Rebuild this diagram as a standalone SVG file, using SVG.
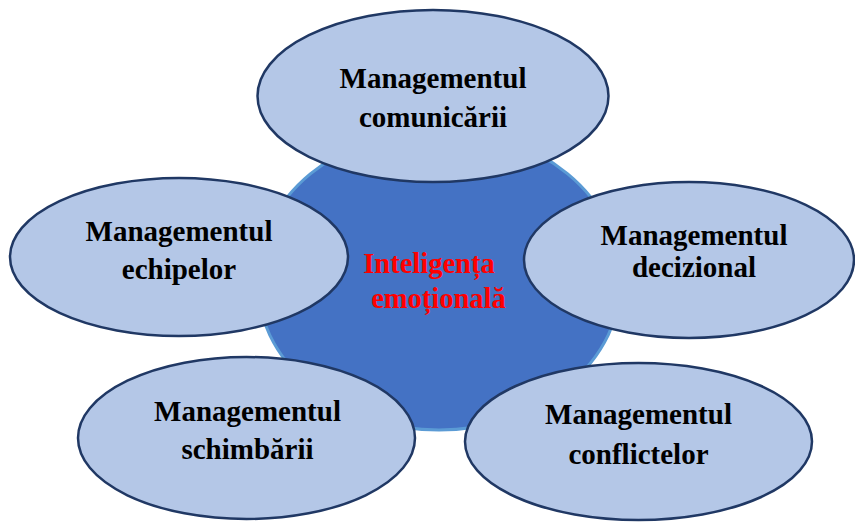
<svg xmlns="http://www.w3.org/2000/svg" width="855" height="522" viewBox="0 0 855 522">
  <style>
    .core { fill: #4472C4; stroke: #5B9BD5; stroke-width: 3; }
    .petal { fill: #B4C7E7; stroke: #203864; stroke-width: 2.5; }
    .lbl { font-family: "Liberation Serif", "Times New Roman", serif; font-weight: bold; font-size: 29px; fill: #000000; text-anchor: middle; }
    .core-lbl { font-family: "Liberation Serif", "Times New Roman", serif; font-weight: bold; font-size: 28.5px; fill: #FF0000; text-anchor: middle; }
  </style>
  <rect width="855" height="522" fill="#FFFFFF"/>
  <g id="connectors"/>
  <g id="core">
    <ellipse class="core" cx="439" cy="280" rx="182" ry="150"/>
  </g>
  <g id="node-comunicarii">
    <ellipse class="petal" cx="433" cy="96" rx="175.5" ry="86"/>
    <text class="lbl" x="433" y="88">Managementul</text>
    <text class="lbl" x="433" y="127">comunicării</text>
  </g>
  <g id="node-echipelor">
    <ellipse class="petal" cx="179" cy="257" rx="169" ry="79"/>
    <text class="lbl" x="179" y="241">Managementul</text>
    <text class="lbl" x="179" y="279">echipelor</text>
  </g>
  <g id="node-decizional">
    <ellipse class="petal" cx="689" cy="260" rx="165" ry="78"/>
    <text class="lbl" x="694" y="245">Managementul</text>
    <text class="lbl" x="694" y="277">decizional</text>
  </g>
  <g id="node-schimbarii">
    <ellipse class="petal" cx="246.5" cy="438" rx="168.5" ry="81"/>
    <text class="lbl" x="247.5" y="421">Managementul</text>
    <text class="lbl" x="247.5" y="459">schimbării</text>
  </g>
  <g id="node-conflictelor">
    <ellipse class="petal" cx="638.5" cy="441.5" rx="173.5" ry="78.5"/>
    <text class="lbl" x="638.5" y="424">Managementul</text>
    <text class="lbl" x="638.5" y="464">conflictelor</text>
  </g>
  <g id="core-label">
    <text class="core-lbl" x="429" y="273">Inteligența</text>
    <text class="core-lbl" x="438.5" y="308">emoțională</text>
  </g>
</svg>
